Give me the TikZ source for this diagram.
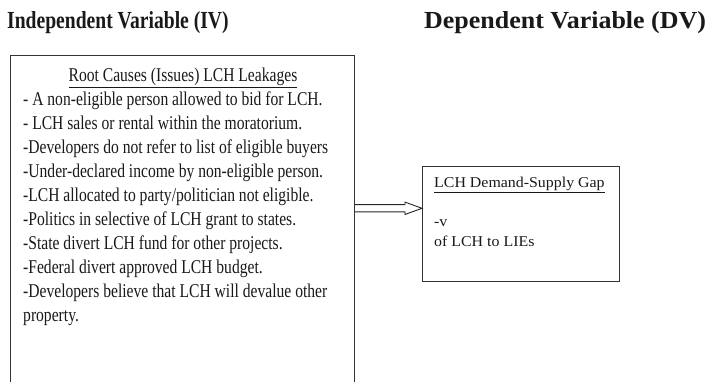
\documentclass[tikz,border=0pt]{standalone}
\usepackage{fontspec}
\setmainfont{Liberation Serif}
\newfontfamily\leftfont{Liberation Serif}[FakeStretch=0.80]
\newfontfamily\rightfont{Liberation Serif}[FakeStretch=1.06]
\usetikzlibrary{calc}
\begin{document}
\begin{tikzpicture}[x=1pt,y=-1pt,
  box/.style={draw=black!80,line width=1.1pt,inner sep=0pt},
  lt/.style={font=\leftfont\fontsize{19.5}{23}\selectfont,inner sep=0pt,text=black!90},
  rt/.style={font=\rightfont\fontsize{15}{18}\selectfont,inner sep=0pt,text=black!90},
  ttl/.style={inner sep=0pt,text=black!90},
  arrowline/.style={draw=black!85,line width=0.9pt,fill=white,line join=miter}]
\useasboundingbox (0,0) rectangle (712,382);
% titles
\node[ttl,anchor=base west,font=\leftfont\bfseries\fontsize{24.5}{28}\selectfont] (iv) at (7,29) {Independent Variable (IV)};
\node[ttl,anchor=base west,font=\rightfont\bfseries\fontsize{24.5}{28}\selectfont] (dv) at (424,29) {Dependent Variable (DV)};
% boxes
\node[box,anchor=north west,minimum width=344pt,minimum height=360pt] (lbox) at (10,55) {};
\node[box,anchor=north west,minimum width=197pt,minimum height=115pt] (rbox) at (422,166) {};
% left box text
\node[lt,anchor=base] (h0) at (183,81.5) {\underline{Root Causes (Issues) LCH Leakages}};
\node[lt,anchor=base west] (h1) at (23,105.5) {- A non-eligible person allowed to bid for LCH.};
\node[lt,anchor=base west] (h2) at (23,129.5) {- LCH sales or rental within the moratorium.};
\node[lt,anchor=base west] (h3) at (23,153.5) {-Developers do not refer to list of eligible buyers};
\node[lt,anchor=base west] (h4) at (23,177.5) {-Under-declared income by non-eligible person.};
\node[lt,anchor=base west] (h5) at (23,201.5) {-LCH allocated to party/politician not eligible.};
\node[lt,anchor=base west] (h6) at (23,225.5) {-Politics in selective of LCH grant to states.};
\node[lt,anchor=base west] (h7) at (23,249.5) {-State divert LCH fund for other projects.};
\node[lt,anchor=base west] (h8) at (23,273.5) {-Federal divert approved LCH budget.};
\node[lt,anchor=base west] (h9) at (23,297.5) {-Developers believe that LCH will devalue other};
\node[lt,anchor=base west] (h10) at (23,321.5) {property.};
% right box text
\node[rt,anchor=base west] (r0) at (434,188) {\underline{LCH Demand-Supply Gap}};
\node[rt,anchor=base west] (r1) at (434,226) {-v};
\node[rt,anchor=base west] (r2) at (434,246) {of LCH to LIEs};
% arrow
\coordinate (ay) at (0,208.3);
\draw[arrowline] ($(lbox.east |- ay)+(0,-3.6)$) -- ($(rbox.west |- ay)+(-17,-3.6)$) -- ++(0,-2.6)
  -- (rbox.west |- ay) -- ($(rbox.west |- ay)+(-17,6.2)$) -- ++(0,-2.6) -- ($(lbox.east |- ay)+(0,3.6)$);
\end{tikzpicture}
\end{document}
